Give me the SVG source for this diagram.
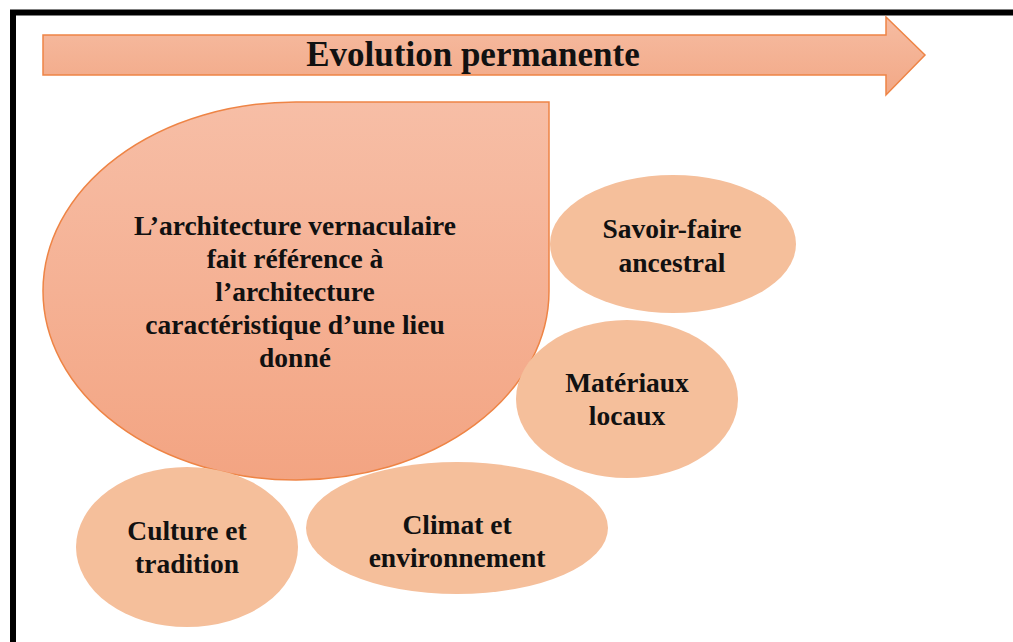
<svg xmlns="http://www.w3.org/2000/svg" width="1013" height="642" viewBox="0 0 1013 642">
<defs>
<linearGradient id="gArrow" x1="0" y1="0" x2="0" y2="1">
<stop offset="0" stop-color="#f6bca2"/>
<stop offset="1" stop-color="#f2a886"/>
</linearGradient>
<linearGradient id="gDrop" x1="0" y1="0" x2="0" y2="1">
<stop offset="0" stop-color="#f7bea6"/>
<stop offset="1" stop-color="#f3a482"/>
</linearGradient>
<style>
.t{font-family:"Liberation Serif","Times New Roman",serif;font-weight:bold;fill:#111;text-anchor:middle}
.e{fill:#f5bf9b}
.s{stroke:#ee8445;stroke-width:1.5}
</style>
</defs>
<rect x="0" y="0" width="1013" height="642" fill="#fff"/>
<rect x="13" y="12.5" width="1020" height="650" fill="none" stroke="#000" stroke-width="6"/>
<g id="arrow">
<path class="s" d="M43,35 H886 V17 L925,55 L886,95 V75 H43 Z" fill="url(#gArrow)"/>
<text class="t" x="473" y="66" font-size="35">Evolution permanente</text>
</g>
<g id="vernaculaire">
<path class="s" d="M43,291 A253,189 0 0 1 296,102 H549 V291 A253,189 0 0 1 296,480 A253,189 0 0 1 43,291 Z" fill="url(#gDrop)"/>
<text class="t" font-size="27.5"><tspan x="295" y="235">L’architecture vernaculaire</tspan><tspan x="295" y="268">fait référence à</tspan><tspan x="295" y="301">l’architecture</tspan><tspan x="295" y="334">caractéristique d’une lieu</tspan><tspan x="295" y="367">donné</tspan></text>
</g>
<g id="savoir">
<ellipse class="e" cx="673" cy="244" rx="123" ry="69"/>
<text class="t" font-size="27.5"><tspan x="672" y="238">Savoir-faire</tspan><tspan x="672" y="272">ancestral</tspan></text>
</g>
<g id="materiaux">
<ellipse class="e" cx="627" cy="399" rx="111" ry="79"/>
<text class="t" font-size="27.5"><tspan x="627" y="392">Matériaux</tspan><tspan x="627" y="425">locaux</tspan></text>
</g>
<g id="climat">
<ellipse class="e" cx="457" cy="528" rx="151" ry="66"/>
<text class="t" font-size="27.5"><tspan x="457" y="534">Climat et</tspan><tspan x="457" y="567">environnement</tspan></text>
</g>
<g id="culture">
<ellipse class="e" cx="187" cy="547" rx="111" ry="80"/>
<text class="t" font-size="27.5"><tspan x="187" y="540">Culture et</tspan><tspan x="187" y="573">tradition</tspan></text>
</g>
<g id="connectors"/>
</svg>
